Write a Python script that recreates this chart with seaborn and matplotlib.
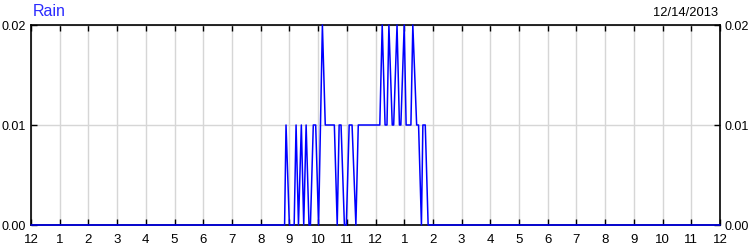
import matplotlib
matplotlib.use("Agg")
import matplotlib.pyplot as plt
import seaborn as sns
import pandas as pd

# Rain readings (time of day, inches)
times = ["00:00", "08:50", "08:53", "09:00", "09:10", "09:14", "09:19", "09:25", "09:30",
         "09:35", "09:41", "09:44", "09:50", "09:55", "10:01", "10:09", "10:15", "10:34",
         "10:40", "10:44", "10:48", "10:55", "10:59", "11:05", "11:11", "11:19", "11:24",
         "12:09", "12:14", "12:20", "12:24", "12:28", "12:35", "12:38", "12:45", "12:50",
         "12:53", "13:00", "13:04", "13:14", "13:18", "13:26", "13:30", "13:36", "13:39",
         "13:44", "13:50", "24:00"]
rain = [0, 0, 0.01, 0, 0, 0.01, 0, 0.01, 0, 0.01, 0, 0, 0.01, 0.01, 0, 0.02, 0.01, 0.01,
        0, 0.01, 0.01, 0, 0, 0.01, 0.01, 0, 0.01, 0.01, 0.02, 0.01, 0.01, 0.02, 0.01, 0.01,
        0.02, 0.01, 0.01, 0.02, 0.01, 0.01, 0.02, 0.01, 0.01, 0, 0.01, 0.01, 0, 0]

hour_ticks = list(range(0, 25))
hour_labels = ["12", "1", "2", "3", "4", "5", "6", "7", "8", "9", "10", "11",
               "12", "1", "2", "3", "4", "5", "6", "7", "8", "9", "10", "11", "12"]
y_ticks = [0.0, 0.01, 0.02]
y_labels = ["0.00", "0.01", "0.02"]
title = "Rain"
date_text = "12/14/2013"

hours = [int(t.split(":")[0]) + int(t.split(":")[1]) / 60 for t in times]
df = pd.DataFrame({"hour": hours, "rain": rain})

sns.set_theme(style="white")
plt.rcParams["font.family"] = ["Liberation Sans", "DejaVu Sans"]

fig = plt.figure(figsize=(7.5, 2.5), dpi=100)
ax = fig.add_axes([31 / 750, 25 / 250, 689 / 750, 200 / 250])

sns.lineplot(data=df, x="hour", y="rain", ax=ax, color="#0000ff", linewidth=1.1,
             clip_on=False, zorder=5)

ax.set_xlim(0, 24)
ax.set_ylim(0, 0.02)
ax.set_xticks(hour_ticks)
ax.set_xticklabels(hour_labels)
ax.set_yticks(y_ticks)
ax.set_yticklabels(y_labels)
ax.set_xlabel("")
ax.set_ylabel("")
ax.grid(True, color="#d6d6d6", linewidth=1)
ax.set_axisbelow(True)
for s in ax.spines.values():
    s.set_color("black")
    s.set_linewidth(1.2)
ax.tick_params(axis="both", direction="in", length=4, width=1, color="black",
               labelcolor="black", top=True, bottom=True,
               left=True, right=True, labelleft=True, labelright=True)
ax.tick_params(axis="x", pad=6.5, labelsize=9.5)
ax.tick_params(axis="y", pad=3.5, labelsize=9)

fig.text(33 / 750, 1 - 12 / 250, title, color="#2b2bff", fontsize=11.5, va="center", ha="left")
fig.text(718 / 750, 1 - 13 / 250, date_text, color="black", fontsize=9.3, va="center", ha="right")

fig.savefig("out.png", dpi=100)
